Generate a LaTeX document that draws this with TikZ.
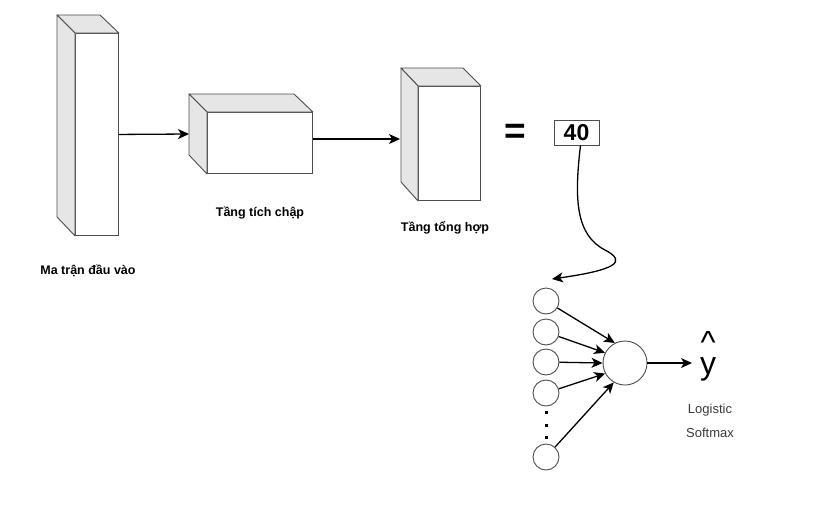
\documentclass[tikz,border=0pt]{standalone}
\usepackage{fontspec}
\setmainfont{Liberation Sans}
\usetikzlibrary{arrows.meta,calc}
\definecolor{edgegray}{HTML}{4D4D4D}
\definecolor{facegray}{HTML}{E6E6E6}
\definecolor{txtgray}{HTML}{3A3A3A}
\tikzset{
  front/.style={draw=edgegray,fill=white,line width=0.9pt,inner sep=0pt,anchor=north west},
  face/.style={draw=edgegray,fill=facegray,line width=0.9pt,line join=round},
  conn/.style={draw=black,line width=1.3pt,-{Stealth[length=11pt,width=10pt,inset=3pt]}},
  lbl/.style={font=\bfseries\fontsize{12.5}{15}\selectfont,inner sep=0pt},
  neuron/.style={circle,draw=edgegray,line width=0.9pt,fill=white,inner sep=0pt},
  small/.style={font=\fontsize{13}{15}\selectfont,text=txtgray,inner sep=0pt},
}
\begin{document}
\begin{tikzpicture}[x=1pt,y=-1pt]
\useasboundingbox (0,0) rectangle (816,528);
% --- box 1
\node[front,minimum width=43pt,minimum height=202pt] (b1) at (75,33) {};
\draw[face] (b1.north west) -- ++(-18,-18) -- ++(43,0) -- (b1.north east) -- cycle;
\draw[face] (b1.north west) -- ++(-18,-18) -- ++(0,202) -- (b1.south west) -- cycle;
% --- box 2
\node[front,minimum width=105pt,minimum height=61pt] (b2) at (207,112) {};
\draw[face] (b2.north west) -- ++(-18,-18) -- ++(105,0) -- (b2.north east) -- cycle;
\draw[face] (b2.north west) -- ++(-18,-18) -- ++(0,61) -- (b2.south west) -- cycle;
% --- box 3
\node[front,minimum width=62pt,minimum height=114pt] (b3) at (418,86) {};
\draw[face] (b3.north west) -- ++(-17,-18) -- ++(62,0) -- (b3.north east) -- cycle;
\draw[face] (b3.north west) -- ++(-17,-18) -- ++(0,114) -- (b3.south west) -- cycle;
% labels
\node[lbl] (l1) at (88,271) {Ma trận đầu vào};
\node[lbl] (l2) at (260,213) {Tầng tích chập};
\node[lbl] (l3) at (445,228) {Tầng tổng hợp};
% connectors between boxes
\coordinate (b2in) at (189,134);
\coordinate (b3in) at (400,139);
\draw[conn] (b1.east) -- (b2in);
\draw[conn] (b2.east |- b3in) -- (b3in);
% equals and 40
\node[font=\bfseries\fontsize{37}{40}\selectfont,inner sep=0pt] (eq) at (515,134) {=};
\node[draw=edgegray,line width=0.9pt,minimum width=45pt,minimum height=25pt,inner sep=0pt,
      font=\bfseries\fontsize{23}{25}\selectfont] (n40) at (576.5,132.5) {40};
% curved connector
\coordinate (netin) at (552,279);
\draw[conn] ($(n40.south)+(4,0)$) .. controls (574,200) and (576,235) .. (605,250)
   .. controls (628,262) and (615,270) .. (netin);
% neurons
\node[neuron,minimum size=26pt] (i1) at (546,301) {};
\node[neuron,minimum size=26pt] (i2) at (546,332) {};
\node[neuron,minimum size=26pt] (i3) at (546,362) {};
\node[neuron,minimum size=26pt] (i4) at (546,393) {};
\node[neuron,minimum size=26pt] (i5) at (546,457) {};
\node[neuron,minimum size=44pt] (out) at (625,363) {};
\foreach \yy in {412,425,437} \fill (545,\yy-1.5) rectangle (548,\yy+1.5);
\draw[conn] (i1) -- (out.117);
\draw[conn] (i2) -- (out.153);
\draw[conn] (i3) -- (out.180);
\draw[conn] (i4) -- (out.208);
\draw[conn] (i5) -- (out.240);
% output
\node[font=\fontsize{32}{21}\selectfont,inner sep=0pt,align=center,anchor=base] (yv) at (708,374) {\symbol{94}\\y};
\coordinate (ytip) at (692,363);
\draw[conn] (out.east) -- (ytip);
\node[small] (lg) at (710,410) {Logistic};
\node[small] (sm) at (710,433) {Softmax};
\end{tikzpicture}
\end{document}
